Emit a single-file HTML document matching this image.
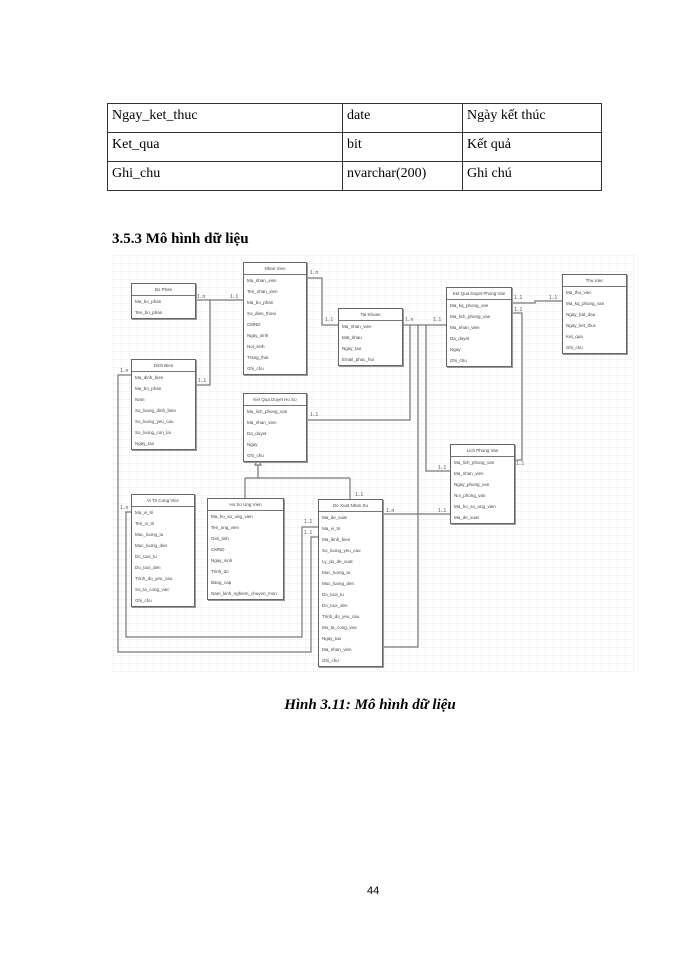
<!DOCTYPE html>
<html><head><meta charset="utf-8"><style>
body{margin:0;background:#fff;}
#p{position:relative;width:700px;height:960px;overflow:hidden;background:#fff;font-family:"Liberation Serif",serif;}
table{position:absolute;left:107px;top:103px;border-collapse:collapse;font-size:14px;}
td{border:1.5px solid #333;height:28px;padding:0 4px;vertical-align:top;line-height:24px;}
.e{position:absolute;border:1.5px solid #666;background:#fff;font-family:"Liberation Sans",sans-serif;font-size:4.5px;color:#444;box-shadow:1px 1px 0 #999;}
.e .h{height:11px;border-bottom:1px solid #777;text-align:center;line-height:11px;}
.e div.r{height:11px;line-height:11px;padding-left:3px;white-space:nowrap;overflow:hidden;}
.lb{position:absolute;font-family:"Liberation Sans",sans-serif;font-size:5px;color:#555;}
</style></head><body><div id="p">
<table>
<tr><td style="width:226px">Ngay_ket_thuc</td><td style="width:111px">date</td><td style="width:130px">Ngày kết thúc</td></tr>
<tr><td>Ket_qua</td><td>bit</td><td>Kết quả</td></tr>
<tr><td>Ghi_chu</td><td>nvarchar(200)</td><td>Ghi chú</td></tr>
</table>
<div style="position:absolute;left:112px;top:231px;font-size:15px;font-weight:bold;">3.5.3 Mô hình dữ liệu</div>
<svg style="position:absolute;left:113px;top:255px" width="522" height="420">
<defs><pattern id="g" width="8" height="8" patternUnits="userSpaceOnUse"><path d="M0 0H8M0 0V8" stroke="#ccc" stroke-width="0.7" stroke-dasharray="1 1"/></pattern></defs>
<rect width="522" height="420" fill="url(#g)"/>
</svg>
<svg style="position:absolute;left:0;top:0" width="700" height="960" fill="none" stroke="#777" stroke-width="1.2">
<path d="M195 300H243"/><path d="M195 385H210V300"/>
<path d="M306 278H322V325H338"/>
<path d="M402 325H446"/>
<path d="M410 325V420H306"/>
<path d="M418 325V647H382"/>
<path d="M426 325V471H450"/>
<path d="M511 303H535V301H562"/>
<path d="M511 313H522V460H514"/>
<path d="M382 514H450"/>
<path d="M258 465V478M245 478H350M245 478V498M350 478V499"/>
<path d="M318 527H302V637H126V512H131"/>
<path d="M318 537H311V652H118V375H131"/>
<path d="M255 465l3-6 3 6z" fill="#fff"/>
</svg>
<div class="lb" style="left:197px;top:294px">1..n</div><div class="lb" style="left:230px;top:294px">1..1</div>
<div class="lb" style="left:198px;top:378px">1..1</div><div class="lb" style="left:310px;top:270px">1..n</div>
<div class="lb" style="left:325px;top:317px">1..1</div><div class="lb" style="left:405px;top:317px">1..n</div>
<div class="lb" style="left:433px;top:317px">1..1</div><div class="lb" style="left:514px;top:295px">1..1</div>
<div class="lb" style="left:549px;top:295px">1..1</div><div class="lb" style="left:514px;top:307px">1..1</div>
<div class="lb" style="left:516px;top:461px">1..1</div><div class="lb" style="left:438px;top:465px">1..1</div>
<div class="lb" style="left:310px;top:412px">1..1</div><div class="lb" style="left:386px;top:508px">1..n</div>
<div class="lb" style="left:438px;top:508px">1..1</div><div class="lb" style="left:304px;top:519px">1..1</div>
<div class="lb" style="left:304px;top:530px">1..1</div><div class="lb" style="left:355px;top:492px">1..1</div>
<div class="lb" style="left:120px;top:505px">1..n</div><div class="lb" style="left:120px;top:368px">1..n</div>

<div class="e" style="left:131px;top:283px;width:63px"><div class="h">Bo Phan</div><div class="r">Ma_bo_phan</div><div class="r">Ten_bo_phan</div></div>
<div class="e" style="left:131px;top:359px;width:63px"><div class="h">Dinh Bien</div><div class="r">Ma_dinh_bien</div><div class="r">Ma_bo_phan</div><div class="r">Nam</div><div class="r">So_luong_dinh_bien</div><div class="r">So_luong_yeu_cau</div><div class="r">So_luong_con_lai</div><div class="r">Ngay_tao</div></div>
<div class="e" style="left:243px;top:262px;width:62px"><div class="h">Nhan Vien</div><div class="r">Ma_nhan_vien</div><div class="r">Ten_nhan_vien</div><div class="r">Ma_bo_phan</div><div class="r">So_dien_thoai</div><div class="r">CMND</div><div class="r">Ngay_sinh</div><div class="r">Noi_sinh</div><div class="r">Trang_thai</div><div class="r">Ghi_chu</div></div>
<div class="e" style="left:243px;top:393px;width:62px"><div class="h">Ket Qua Duyet Ho So</div><div class="r">Ma_lich_phong_van</div><div class="r">Ma_nhan_vien</div><div class="r">Da_duyet</div><div class="r">Ngay</div><div class="r">Ghi_chu</div></div>
<div class="e" style="left:338px;top:308px;width:63px"><div class="h">Tai Khoan</div><div class="r">Ma_nhan_vien</div><div class="r">Mat_khau</div><div class="r">Ngay_tao</div><div class="r">Email_phuc_hoi</div></div>
<div class="e" style="left:446px;top:287px;width:64px"><div class="h">Ket Qua Duyet Phong Van</div><div class="r">Ma_kq_phong_van</div><div class="r">Ma_lich_phong_van</div><div class="r">Ma_nhan_vien</div><div class="r">Da_duyet</div><div class="r">Ngay</div><div class="r">Ghi_chu</div></div>
<div class="e" style="left:562px;top:274px;width:63px"><div class="h">Thu Viec</div><div class="r">Ma_thu_viec</div><div class="r">Ma_kq_phong_van</div><div class="r">Ngay_bat_dau</div><div class="r">Ngay_ket_thuc</div><div class="r">Ket_qua</div><div class="r">Ghi_chu</div></div>
<div class="e" style="left:450px;top:444px;width:63px"><div class="h">Lich Phong Van</div><div class="r">Ma_lich_phong_van</div><div class="r">Ma_nhan_vien</div><div class="r">Ngay_phong_van</div><div class="r">Noi_phong_van</div><div class="r">Ma_ho_so_ung_vien</div><div class="r">Ma_de_xuat</div></div>
<div class="e" style="left:131px;top:494px;width:62px"><div class="h">Vi Tri Cong Viec</div><div class="r">Ma_vi_tri</div><div class="r">Ten_vi_tri</div><div class="r">Muc_luong_tu</div><div class="r">Muc_luong_den</div><div class="r">Do_tuoi_tu</div><div class="r">Do_tuoi_den</div><div class="r">Trinh_do_yeu_cau</div><div class="r">So_ta_cong_viec</div><div class="r">Ghi_chu</div></div>
<div class="e" style="left:207px;top:498px;width:75px"><div class="h">Ho So Ung Vien</div><div class="r">Ma_ho_so_ung_vien</div><div class="r">Ten_ung_vien</div><div class="r">Gioi_tinh</div><div class="r">CMND</div><div class="r">Ngay_sinh</div><div class="r">Trinh_do</div><div class="r">Bang_cap</div><div class="r">Nam_kinh_nghiem_chuyen_mon</div></div>
<div class="e" style="left:318px;top:499px;width:63px"><div class="h">De Xuat Nhan Su</div><div class="r">Ma_de_xuat</div><div class="r">Ma_vi_tri</div><div class="r">Ma_dinh_bien</div><div class="r">So_luong_yeu_cau</div><div class="r">Ly_do_de_xuat</div><div class="r">Muc_luong_tu</div><div class="r">Muc_luong_den</div><div class="r">Do_tuoi_tu</div><div class="r">Do_tuoi_den</div><div class="r">Trinh_do_yeu_cau</div><div class="r">Mo_ta_cong_viec</div><div class="r">Ngay_tao</div><div class="r">Ma_nhan_vien</div><div class="r">Ghi_chu</div></div>

<div style="position:absolute;left:0;width:700px;top:697px;text-align:center;font-size:15px;font-weight:bold;font-style:italic;padding-left:40px;box-sizing:border-box;">Hình 3.11: Mô hình dữ liệu</div>
<div style="position:absolute;left:367px;top:885px;font-family:'Liberation Sans',sans-serif;font-size:11px;">44</div>
</div></body></html>
